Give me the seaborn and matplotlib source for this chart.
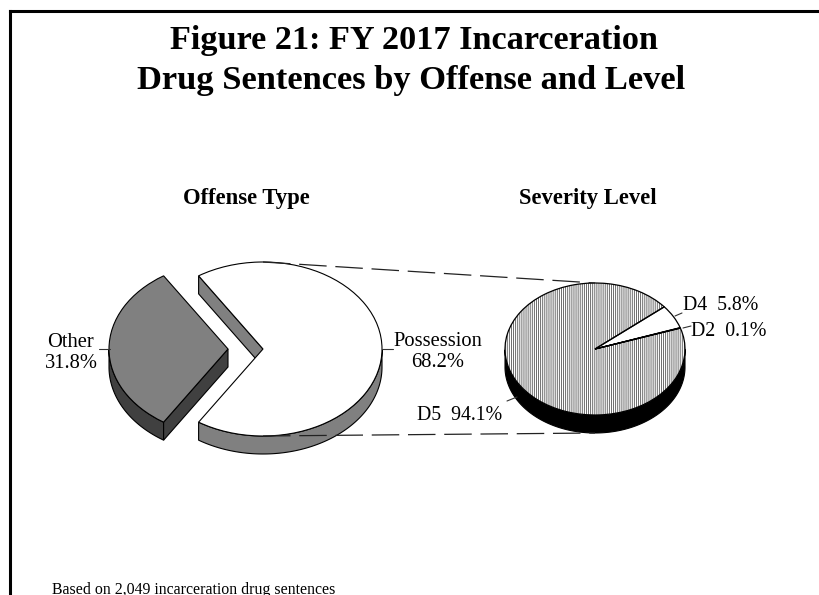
import numpy as np
import matplotlib
matplotlib.use("Agg")
import matplotlib.pyplot as plt
from matplotlib.patches import Polygon
import seaborn as sns

# values
offense_labels = ["Possession", "Other"]
offense_share = [68.2, 31.8]
severity_labels = ["D4", "D2", "D5"]
severity_share = [5.8, 0.1, 94.1]

W, H = 819, 595
DEPTH = 18

sns.set_theme(style="white")
plt.rcParams["font.family"] = ["Liberation Serif", "DejaVu Serif"]
plt.rcParams["hatch.linewidth"] = 0.6

fig = plt.figure(figsize=(W / 100, H / 100), dpi=100)


def pie_axes(cx, cy, rx, ry):
    # one data unit is rx px across and ry px high, which squashes the pie
    pad = 1.6
    ax = fig.add_axes([(cx - pad * rx) / W, 1 - (cy + pad * ry) / H, 2 * pad * rx / W, 2 * pad * ry / H])
    ax.patch.set_alpha(0)
    return ax, pad


def finish(ax, pad):
    ax.set_aspect("auto")
    ax.set_xlim(-pad, pad)
    ax.set_ylim(-pad, pad)
    ax.axis("off")


def rim(ax, wedge, depth, color):
    t = np.radians(np.linspace(wedge.theta1, wedge.theta2, 400))
    t = t[np.sin(t) < 0]
    x = wedge.center[0] + wedge.r * np.cos(t)
    y = wedge.center[1] + wedge.r * np.sin(t)
    pts = np.r_[np.c_[x, y], np.c_[x, y - depth][::-1]]
    ax.add_patch(Polygon(pts, closed=True, fc=color, ec="black", lw=0.8, zorder=0))


def cut_face(ax, wedge, angle, depth, color):
    a = np.radians(angle)
    cx, cy = wedge.center
    ex, ey = cx + wedge.r * np.cos(a), cy + wedge.r * np.sin(a)
    pts = [(cx, cy), (ex, ey), (ex, ey - depth), (cx, cy - depth)]
    ax.add_patch(Polygon(pts, closed=True, fc=color, ec="black", lw=0.8, zorder=0))


# left pie
L_CX, L_CY, L_RX, L_RY = 263, 349, 119, 87
ax_l, pad = pie_axes(L_CX, L_CY, L_RX, L_RY)
half_other = offense_share[1] * 3.6 / 2
wedges, _ = ax_l.pie(
    offense_share,
    startangle=180 - half_other,
    counterclock=False,
    explode=[0, 35 / L_RX],
    colors=["white", "#808080"],
    wedgeprops=dict(edgecolor="black", linewidth=0.8),
)
d = DEPTH / L_RY
rim(ax_l, wedges[0], d, "#808080")
cut_face(ax_l, wedges[0], 180 - half_other, d, "#808080")
rim(ax_l, wedges[1], d, "#404040")
cut_face(ax_l, wedges[1], 180 + half_other, d, "#404040")
finish(ax_l, pad)

# right pie
R_CX, R_CY, R_RX, R_RY = 595, 349, 90, 66
ax_r, pad = pie_axes(R_CX, R_CY, R_RX, R_RY)
wedges, _ = ax_r.pie(
    severity_share,
    startangle=39.7,
    counterclock=False,
    colors=["white", "white", "white"],
    wedgeprops=dict(edgecolor="#555555", linewidth=0),
)
wedges[2].set_hatch("||||||||")
ax_r.pie(
    severity_share,
    startangle=39.7,
    counterclock=False,
    wedgeprops=dict(fill=False, edgecolor="black", linewidth=0.9),
)
rim(ax_r, wedges[2], DEPTH / R_RY, "black")
finish(ax_r, pad)

# overlay in pixel coordinates for the frame, text and leaders
ov = fig.add_axes([0, 0, 1, 1])
ov.patch.set_alpha(0)
ov.set_xlim(0, W)
ov.set_ylim(H, 0)
ov.set_xticks([])
ov.set_yticks([])
for s in ov.spines.values():
    s.set_visible(False)

frame = fig.add_axes([10 / W, -0.1, 1, 1 + 0.1 - 11 / H])
frame.patch.set_alpha(0)
frame.set_xticks([])
frame.set_yticks([])
sns.despine(ax=frame, right=True, bottom=True)
for side in ["top", "left"]:
    frame.spines[side].set_visible(True)
    frame.spines[side].set_linewidth(2.2)
    frame.spines[side].set_color("black")

# dashed connectors between the two pies
dash = (0, (22, 7))
ov.plot([L_CX, R_CX], [L_CY - L_RY, R_CY - R_RY], color="#222222", lw=0.9, ls=dash)
ov.plot([L_CX, R_CX], [L_CY + L_RY, R_CY + R_RY + DEPTH], color="#222222", lw=0.9, ls=dash)

# label leaders
for (x0, x1), (y0, y1) in [
    ((99, 110), (349, 349)),
    ((382, 393), (349, 349)),
    ((675, 682), (316, 313)),
    ((683, 691), (328, 326)),
    ((507, 517), (401, 397)),
]:
    ov.plot([x0, x1], [y0, y1], color="#333333", lw=0.8)

ov.text(414, 40, "Figure 21: FY 2017 Incarceration", ha="center", va="center", fontsize=24.7, fontweight="bold", color="black")
ov.text(411, 81, "Drug Sentences by Offense and Level", ha="center", va="center", fontsize=24.8, fontweight="bold", color="black")
ov.text(246, 198.5, "Offense Type", ha="center", va="center", fontsize=16.3, fontweight="bold", color="black")
ov.text(588, 198.5, "Severity Level", ha="center", va="center", fontsize=16.3, fontweight="bold", color="black")

label_size = 14.8
ov.text(71, 353, f"{offense_labels[1]}\n{offense_share[1]}%", ha="center", va="center", fontsize=label_size, color="black", linespacing=1.2)
ov.text(438, 352, f"{offense_labels[0]}\n{offense_share[0]}%", ha="center", va="center", fontsize=label_size, color="black", linespacing=1.2)
ov.text(683, 305, f"{severity_labels[0]}  {severity_share[0]}%", ha="left", va="center", fontsize=14.3, color="black")
ov.text(691, 331, f"{severity_labels[1]}  {severity_share[1]}%", ha="left", va="center", fontsize=14.3, color="black")
ov.text(417, 416, f"{severity_labels[2]}  {severity_share[2]}%", ha="left", va="center", fontsize=14.3, color="black")
ov.text(52, 594.5, "Based on 2,049 incarceration drug sentences", ha="left", va="baseline", fontsize=11.4, color="black")

fig.savefig("out.png", dpi=100, facecolor="white")
